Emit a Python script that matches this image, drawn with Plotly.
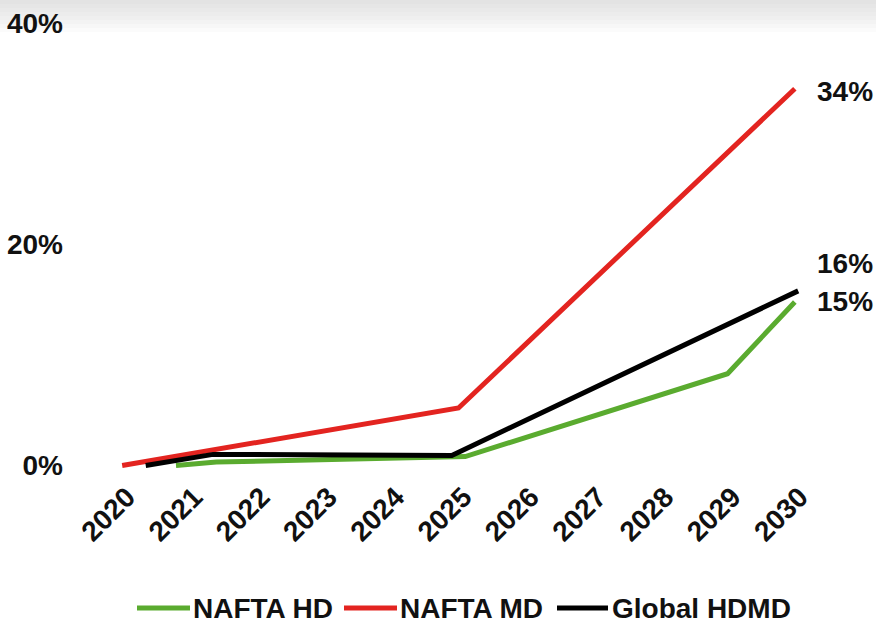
import plotly.graph_objects as go

# Data (percent)
hd_years = [2020.8, 2021.4, 2025.1, 2029.0, 2030.0]
hd_values = [0.0, 0.3, 0.8, 8.3, 14.8]

md_years = [2020.0, 2025.0, 2030.0]
md_values = [0.0, 5.2, 34.1]

global_years = [2020.35, 2021.35, 2024.9, 2030.05]
global_values = [0.0, 1.0, 0.9, 15.8]

series_names = ["NAFTA HD", "NAFTA MD", "Global HDMD"]
x_ticks = list(range(2020, 2031))
y_ticks = [0, 20, 40]
y_tick_labels = ["0%", "20%", "40%"]
end_labels = ["15%", "34%", "16%"]

GREEN = "#5aab2f"
RED = "#e32420"
BLACK = "#000000"
COLORS = [GREEN, RED, BLACK]
FONT = "Liberation Sans, Arial, sans-serif"

W, H = 876, 624
ML, MR, MT, MB = 102, 61, 18, 142
PW, PH = W - ML - MR, H - MT - MB


def px_x(p):
    return (p - ML) / PW


def px_y(p):
    return (H - MB - p) / PH


fig = go.Figure()
for name, xs, ys, col in zip(series_names, [hd_years, md_years, global_years],
                             [hd_values, md_values, global_values], COLORS):
    fig.add_trace(go.Scatter(x=xs, y=ys, mode="lines", name=name, showlegend=False,
                             hoverinfo="skip", line=dict(color=col, width=5)))

# end labels
ends = [(hd_values[-1], end_labels[0], 0), (md_values[-1], end_labels[1], -3),
        (global_values[-1], end_labels[2], 27)]
for val, txt, ys in ends:
    fig.add_annotation(x=2030, y=val, xref="x", yref="y", text=txt, showarrow=False,
                       xanchor="left", yanchor="middle", xshift=20, yshift=ys,
                       font=dict(family=FONT, size=28, color="#111", weight="bold"))

# manual legend (line sample + label)
legend_items = [(137, 190, 191), (344, 397, 398), (557, 608, 610)]
ly = px_y(608)
for (x0, x1, tx), name, col in zip(legend_items, series_names, COLORS):
    fig.add_shape(type="line", xref="paper", yref="paper", x0=px_x(x0), x1=px_x(x1),
                  y0=ly, y1=ly, line=dict(color=col, width=5))
    fig.add_annotation(x=px_x(tx), y=ly, xref="paper", yref="paper", text=name,
                       showarrow=False, xanchor="left", yanchor="middle",
                       font=dict(family=FONT, size=28, color="#111", weight="bold"))

# faint grey band at the top of the image
for i in range(8):
    fig.add_shape(type="rect", xref="paper", yref="paper", x0=-0.3, x1=1.2,
                  y0=px_y(4 + i * 4), y1=px_y(-5),
                  fillcolor="rgba(205,205,205,0.07)", line=dict(width=0), layer="below")

fig.update_layout(
    width=W, height=H,
    margin=dict(l=ML, r=MR, t=MT, b=MB, autoexpand=False),
    paper_bgcolor="white", plot_bgcolor="rgba(0,0,0,0)",
    font=dict(family=FONT, size=28, color="#111", weight="bold"),
    showlegend=False,
    hovermode=False,
    xaxis=dict(range=[2019.7, 2030.3], tickvals=x_ticks, ticktext=[str(v) for v in x_ticks],
               tickangle=-45, showgrid=False, zeroline=False, showline=False, ticks="",
               automargin=False, ticklabelstandoff=-8, ticklabelshift=5,
               tickfont=dict(family=FONT, size=28, color="#111", weight="bold")),
    yaxis=dict(range=[-1.5, 40.5], tickvals=y_ticks, ticktext=y_tick_labels,
               showgrid=False, zeroline=False, showline=False, ticks="",
               automargin=False, ticklabelstandoff=38,
               tickfont=dict(family=FONT, size=28, color="#111", weight="bold")),
)

fig.write_html("out.html", config={"displayModeBar": False},
               post_script="document.body.style.margin='0px';")
